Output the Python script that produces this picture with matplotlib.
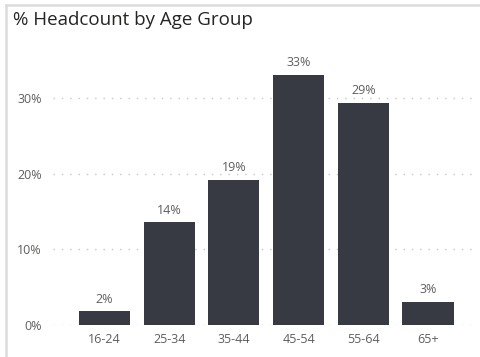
import numpy as np
import matplotlib.pyplot as plt
from matplotlib.lines import Line2D

# headcount share per age band (percent)
age_groups = ['16-24', '25-34', '35-44', '45-54', '55-64', '65+']
headcount_pct = [1.8, 13.6, 19.2, 33.1, 29.4, 3.1]
pct_labels = ['2%', '14%', '19%', '33%', '29%', '3%']
y_ticks = [0, 10, 20, 30]
y_tick_labels = ['0%', '10%', '20%', '30%']

plt.rcParams['font.family'] = ['Open Sans', 'DejaVu Sans']

fig = plt.figure(figsize=(4.8, 3.57), dpi=100)
fig.patch.set_facecolor('white')

# card border (top and left edges visible)
fig.add_artist(Line2D([6/480, 1], [1 - 5/357, 1 - 5/357], color='#dcdcdc', lw=1.8))
fig.add_artist(Line2D([6/480, 6/480], [0, 1 - 5/357], color='#dcdcdc', lw=1.8))

fig.text(13/480, 1 - 20/357, '% Headcount by Age Group', fontsize=13.5,
         color='#252423', va='center', ha='left')

ax = fig.add_axes([53/480, 32/357, 420/480, 272/357])
x = np.arange(len(age_groups))
bars = ax.bar(x, headcount_pct, width=0.79, color='#373a42', zorder=3)

ax.bar_label(bars, labels=pct_labels, padding=4, fontsize=9, color='#605e5c')

ax.set_xlim(-0.796, 5.695)
ax.set_ylim(0, 36)
ax.set_xticks(x)
ax.set_xticklabels(age_groups, fontsize=9, color='#605e5c')
ax.set_yticks(y_ticks)
ax.set_yticklabels(y_tick_labels, fontsize=9, color='#605e5c')
ax.tick_params(axis='both', length=0)
ax.tick_params(axis='y', pad=8)
ax.tick_params(axis='x', pad=6)

ax.grid(axis='y', color='#c8c6c4', linestyle=(0, (1, 5)), linewidth=1, zorder=0)
for s in ax.spines.values():
    s.set_visible(False)

fig.savefig('out.png', dpi=100)
